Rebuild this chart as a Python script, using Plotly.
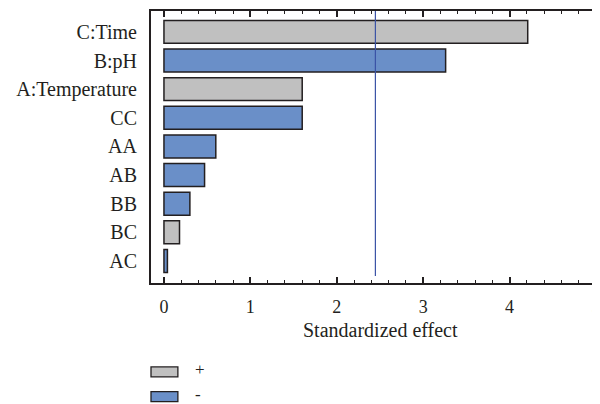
import plotly.graph_objects as go

factors = ["C:Time", "B:pH", "A:Temperature", "CC", "AA", "AB", "BB", "BC", "AC"]
effects = [4.21, 3.26, 1.60, 1.60, 0.60, 0.47, 0.30, 0.18, 0.04]
signs = ["+", "-", "+", "-", "-", "-", "-", "+", "-"]
critical_value = 2.447
x_ticks = [0, 1, 2, 3, 4, 5]
legend_labels = ["+", "-"]
x_title = "Standardized effect"

colors = {"+": "#c0c0c0", "-": "#6a8fc8"}
order = list(reversed(factors))
ink = "#231f20"

fig = go.Figure()
for s in legend_labels:
    ys = [f for f, sg in zip(factors, signs) if sg == s]
    xs = [e for e, sg in zip(effects, signs) if sg == s]
    fig.add_trace(go.Bar(
        x=xs, y=ys, orientation="h", name=s, showlegend=False,
        marker=dict(color=colors[s], line=dict(color=ink, width=1.5)),
        width=0.8,
    ))

fig.add_shape(type="line", xref="x", yref="paper", x0=critical_value, x1=critical_value,
              y0=0.026, y1=1, line=dict(color="#3a52a5", width=1.2))

# x-axis title (placed as annotation, centred as in the original wider panel)
fig.add_annotation(xref="paper", yref="paper", x=0.513, y=-0.1728, text=x_title,
                   showarrow=False, xanchor="center", yanchor="middle",
                   font=dict(size=20, color=ink))

# manual legend (swatch + label) below the plot
legend_y = [-0.327, -0.418]
for lab, yc in zip(legend_labels, legend_y):
    fig.add_shape(type="rect", xref="paper", yref="paper",
                  x0=0.0, x1=0.06, y0=yc - 0.0184, y1=yc + 0.0184,
                  fillcolor=colors[lab], line=dict(color=ink, width=1.3))
    fig.add_annotation(xref="paper", yref="paper", x=0.094, y=yc + 0.008, text=lab,
                       showarrow=False, xanchor="left", yanchor="middle",
                       font=dict(size=17, color=ink))

font_family = "Liberation Serif, DejaVu Serif, serif"
fig.update_layout(
    width=592, height=396,
    margin=dict(l=143, r=1, t=3, b=121),
    plot_bgcolor="white", paper_bgcolor="white",
    barmode="overlay", showlegend=False,
    font=dict(family=font_family, size=20, color=ink),
    xaxis=dict(
        range=[-0.15, 5.035], tickvals=x_ticks, ticks="inside", ticklen=6, tickwidth=1.5,
        tickcolor=ink, showline=True, linecolor=ink, linewidth=2, mirror="ticks",
        showgrid=False, zeroline=False, automargin=False, ticklabeloverflow="allow",
        minor=dict(dtick=0.2, ticks="inside", ticklen=3, tickwidth=1.2, tickcolor=ink, showgrid=False),
        tickfont=dict(size=18), ticklabelstandoff=6,
    ),
    yaxis=dict(
        categoryorder="array", categoryarray=order, range=[-0.77, 8.73],
        showline=True, linecolor=ink, linewidth=2, ticks="", showgrid=False,
        zeroline=False, tickfont=dict(size=20), ticklabelstandoff=8, automargin=False,
    ),
)

fig.write_html("out.html")
